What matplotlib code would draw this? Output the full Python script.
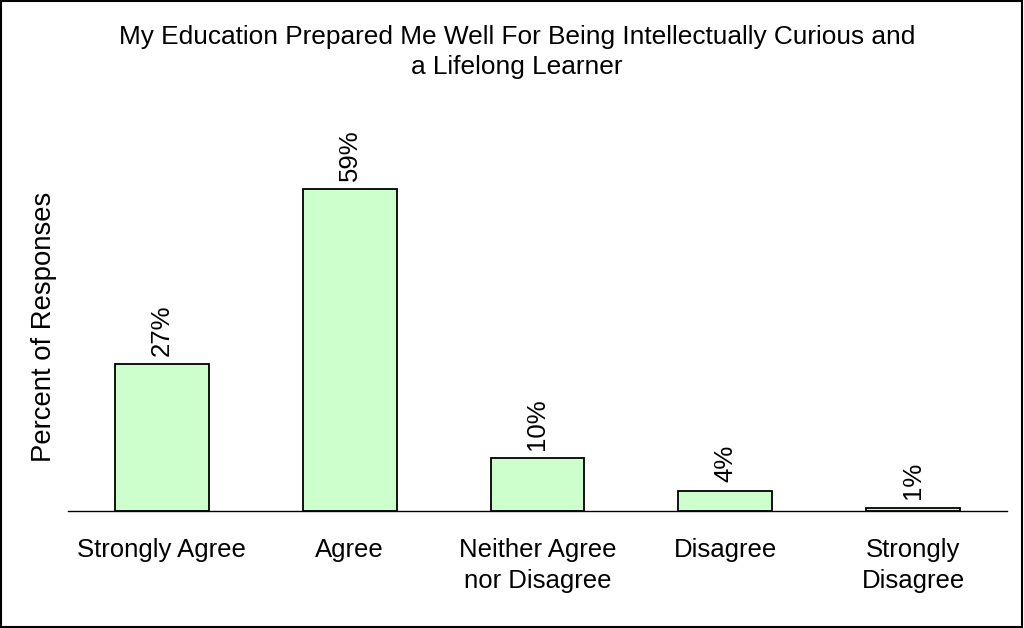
import matplotlib.pyplot as plt
from matplotlib.patches import Rectangle

categories = ['Strongly Agree', 'Agree', 'Neither Agree\nnor Disagree', 'Disagree', 'Strongly\nDisagree']
percents = [26.9, 59.0, 9.7, 3.7, 0.6]
value_labels = ['27%', '59%', '10%', '4%', '1%']

plt.rcParams['font.family'] = ['Liberation Sans', 'DejaVu Sans']
FS = 18.5

fig = plt.figure(figsize=(10.24, 6.28), dpi=100)
ax = fig.add_axes([0.0664, 0.1863, 0.917, 0.565])

x = list(range(len(categories)))
ax.bar(x, percents, width=0.5, color='#CCFFCC', edgecolor='black', linewidth=1.3)

for xi, v, lab in zip(x, percents, value_labels):
    ax.annotate(lab, (xi, v), xytext=(0, 6), textcoords='offset points',
                ha='center', va='bottom', rotation=90, fontsize=FS)

ax.set_xlim(-0.5, 4.5)
ax.set_ylim(0, 65)
ax.set_xticks(x)
ax.set_xticklabels(categories, fontsize=FS, linespacing=1.36)
ax.tick_params(axis='x', length=0, pad=19.5)
ax.set_yticks([])
for side in ['left', 'right', 'top']:
    ax.spines[side].set_visible(False)
ax.spines['bottom'].set_linewidth(1.0)

fig.text(0.043, 0.479, 'Percent of Responses', rotation=90, ha='center', va='center', fontsize=19.8)
fig.text(0.505, 0.96, 'My Education Prepared Me Well For Being Intellectually Curious and\na Lifelong Learner',
         ha='center', va='top', fontsize=18.9, linespacing=1.33)

# border around whole figure
fig.patches.append(Rectangle((0.001, 0.001), 0.997, 0.997, transform=fig.transFigure,
                             fill=False, edgecolor='black', linewidth=1.5))

fig.savefig('out.png', dpi=100)
